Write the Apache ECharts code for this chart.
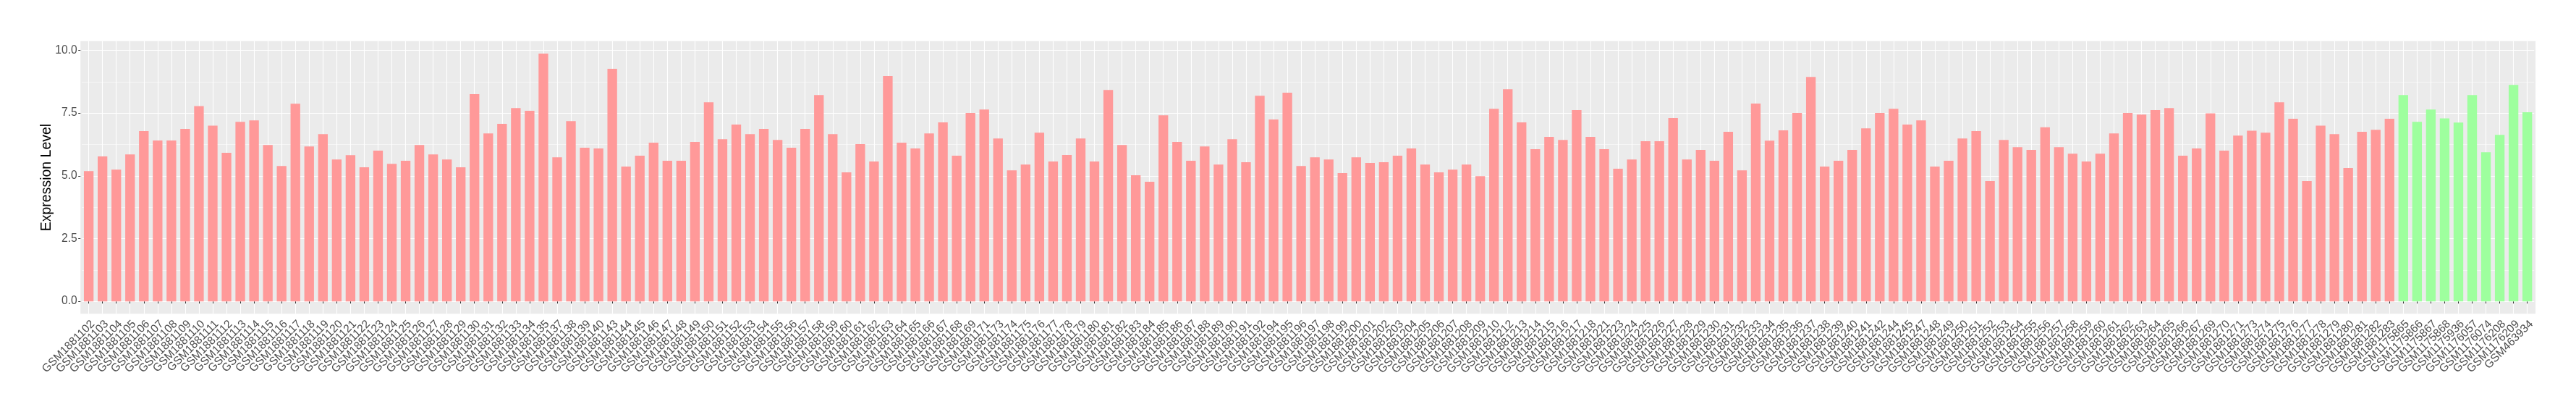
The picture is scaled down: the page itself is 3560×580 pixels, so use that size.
<!DOCTYPE html>
<html>
<head>
<meta charset="utf-8">
<script src="https://cdn.jsdelivr.net/npm/echarts@6.0.0/dist/echarts.min.js"></script>
<style>
html,body{margin:0;padding:0;background:#ffffff;}
#chart{width:3560px;height:580px;}
</style>
</head>
<body>
<div id="chart"></div>
<script>
const redSamples = [
"GSM1881102","GSM1881103","GSM1881104","GSM1881105","GSM1881106","GSM1881107","GSM1881108","GSM1881109","GSM1881110","GSM1881111",
"GSM1881112","GSM1881113","GSM1881114","GSM1881115","GSM1881116","GSM1881117","GSM1881118","GSM1881119","GSM1881120","GSM1881121",
"GSM1881122","GSM1881123","GSM1881124","GSM1881125","GSM1881126","GSM1881127","GSM1881128","GSM1881129","GSM1881130","GSM1881131",
"GSM1881132","GSM1881133","GSM1881134","GSM1881135","GSM1881137","GSM1881138","GSM1881139","GSM1881140","GSM1881143","GSM1881144",
"GSM1881145","GSM1881146","GSM1881147","GSM1881148","GSM1881149","GSM1881150","GSM1881151","GSM1881152","GSM1881153","GSM1881154",
"GSM1881155","GSM1881156","GSM1881157","GSM1881158","GSM1881159","GSM1881160","GSM1881161","GSM1881162","GSM1881163","GSM1881164",
"GSM1881165","GSM1881166","GSM1881167","GSM1881168","GSM1881169","GSM1881171","GSM1881173","GSM1881174","GSM1881175","GSM1881176",
"GSM1881177","GSM1881178","GSM1881179","GSM1881180","GSM1881181","GSM1881182","GSM1881183","GSM1881184","GSM1881185","GSM1881186",
"GSM1881187","GSM1881188","GSM1881189","GSM1881190","GSM1881191","GSM1881192","GSM1881194","GSM1881195","GSM1881196","GSM1881197",
"GSM1881198","GSM1881199","GSM1881200","GSM1881201","GSM1881202","GSM1881203","GSM1881204","GSM1881205","GSM1881206","GSM1881207",
"GSM1881208","GSM1881209","GSM1881210","GSM1881212","GSM1881213","GSM1881214","GSM1881215","GSM1881216","GSM1881217","GSM1881218",
"GSM1881221","GSM1881223","GSM1881224","GSM1881225","GSM1881226","GSM1881227","GSM1881228","GSM1881229","GSM1881230","GSM1881231",
"GSM1881232","GSM1881233","GSM1881234","GSM1881235","GSM1881236","GSM1881237","GSM1881238","GSM1881239","GSM1881240","GSM1881241",
"GSM1881242","GSM1881244","GSM1881245","GSM1881247","GSM1881248","GSM1881249","GSM1881250","GSM1881251","GSM1881252","GSM1881253",
"GSM1881254","GSM1881255","GSM1881256","GSM1881257","GSM1881258","GSM1881259","GSM1881260","GSM1881261","GSM1881262","GSM1881263",
"GSM1881264","GSM1881265","GSM1881266","GSM1881267","GSM1881269","GSM1881270","GSM1881271","GSM1881273","GSM1881274","GSM1881275",
"GSM1881276","GSM1881277","GSM1881278","GSM1881279","GSM1881280","GSM1881281","GSM1881282","GSM1881283"
];
const redValues = [
5.19,5.77,5.25,5.85,6.78,6.41,6.41,6.87,7.78,7.00,
5.92,7.15,7.21,6.23,5.39,7.87,6.17,6.66,5.65,5.82,
5.34,6.00,5.48,5.60,6.23,5.85,5.65,5.34,8.25,6.69,
7.07,7.70,7.59,9.87,5.74,7.18,6.12,6.09,9.26,5.37,
5.80,6.32,5.60,5.60,6.35,7.93,6.46,7.04,6.66,6.87,
6.43,6.12,6.87,8.22,6.66,5.14,6.26,5.57,8.97,6.32,
6.09,6.69,7.13,5.80,7.50,7.64,6.49,5.22,5.45,6.72,
5.57,5.83,6.49,5.57,8.42,6.23,5.02,4.76,7.41,6.35,
5.60,6.17,5.45,6.46,5.54,8.19,7.24,8.31,5.39,5.74,
5.65,5.11,5.74,5.51,5.54,5.80,6.09,5.45,5.14,5.25,
5.45,4.99,7.67,8.45,7.13,6.06,6.55,6.43,7.62,6.55,
6.06,5.28,5.65,6.38,6.38,7.30,5.65,6.03,5.60,6.75,
5.22,7.88,6.40,6.81,7.50,8.94,5.37,5.60,6.03,6.89,
7.50,7.67,7.04,7.21,5.37,5.60,6.49,6.78,4.79,6.43,
6.14,6.03,6.93,6.14,5.88,5.57,5.88,6.69,7.50,7.44,
7.62,7.70,5.80,6.09,7.49,6.00,6.60,6.80,6.72,7.93,
7.27,4.79,7.00,6.66,5.31,6.75,6.83,7.27
];
const greenSamples = [
"GSM1175865","GSM1175866","GSM1175867","GSM1175868","GSM1175936",
"GSM1176057","GSM1176074","GSM1176208","GSM1176209","GSM463934"
];
const greenValues = [8.22,7.15,7.64,7.29,7.12,8.22,5.94,6.63,8.62,7.53];
const yTicks = [0, 2.5, 5, 7.5, 10];
const yMinorTicks = [1.25, 3.75, 6.25, 8.75];
const yTitle = "Expression Level";

const redColor = "#FF9999";
const greenColor = "#9EFF9E";
const fontFam = "'Liberation Sans', Arial, Helvetica, sans-serif";

const categories = redSamples.concat(greenSamples);
const barData = redValues.map(v => ({value: v, itemStyle: {color: redColor}}))
  .concat(greenValues.map(v => ({value: v, itemStyle: {color: greenColor}})));
const allVals = redValues.concat(greenValues);
const vMax = Math.max.apply(null, allVals);
const vMin = 0;
const pad = (vMax - vMin) * 0.05;
const yMin = vMin - pad, yMax = vMax + pad;

// ggplot-like panel
const panel = {left: 111.2, right: 3504.1, top: 56.8, bottom: 433.3};
const n = categories.length;
const step = (panel.right - panel.left) / (n - 1 + 1.2);
const gridLeft = panel.left + 0.1 * step;
const gridRight = panel.right - 0.1 * step;

const chart = echarts.init(document.getElementById('chart'), null, {renderer: 'canvas'});
chart.setOption({
  animation: false,
  backgroundColor: '#ffffff',
  graphic: [
    {type: 'rect', z: -10, silent: true,
     shape: {x: panel.left, y: panel.top, width: panel.right - panel.left, height: panel.bottom - panel.top},
     style: {fill: '#EBEBEB'}},
    {type: 'text', z: 10, silent: true, x: 65, y: (panel.top + panel.bottom) / 2, rotation: Math.PI / 2,
     style: {text: yTitle, fill: '#000000', font: "19.5px " + fontFam,
             align: 'center', verticalAlign: 'middle', textAlign: 'center', textVerticalAlign: 'middle'}}
  ],
  grid: {left: gridLeft, top: panel.top, width: gridRight - gridLeft, height: panel.bottom - panel.top, containLabel: false},
  xAxis: {
    type: 'category', data: categories, boundaryGap: true,
    axisLine: {show: false},
    axisTick: {show: true, alignWithLabel: true, length: 3, lineStyle: {color: '#333333', width: 1}},
    axisLabel: {interval: 0, rotate: 45, align: 'right', verticalAlign: 'top', margin: 6,
                color: '#4D4D4D', fontSize: 15.6, fontFamily: fontFam},
    splitLine: {show: true, alignWithLabel: true, lineStyle: {color: '#ffffff', width: 1.1}}
  },
  yAxis: [
    {
      type: 'value', min: yMin, max: yMax, position: 'left', offset: gridLeft - panel.left,
      axisLine: {show: false},
      axisTick: {show: true, length: 3, customValues: yTicks, lineStyle: {color: '#333333', width: 1}},
      axisLabel: {customValues: yTicks, formatter: v => Number(v).toFixed(1), margin: 4.5,
                  color: '#4D4D4D', fontSize: 15.6, fontFamily: fontFam},
      splitLine: {show: true, lineStyle: {color: '#ffffff', width: 1.1}}
    },
    {
      type: 'value', min: yMin, max: yMax, position: 'left',
      axisLine: {show: false},
      axisTick: {show: false, customValues: yMinorTicks},
      axisLabel: {show: false, customValues: yMinorTicks},
      splitLine: {show: true, lineStyle: {color: '#ffffff', width: 0.55}}
    }
  ],
  series: [{
    type: 'bar', data: barData, barWidth: '70%', yAxisIndex: 0,
    itemStyle: {borderWidth: 0}
  }]
});
</script>
</body>
</html>
